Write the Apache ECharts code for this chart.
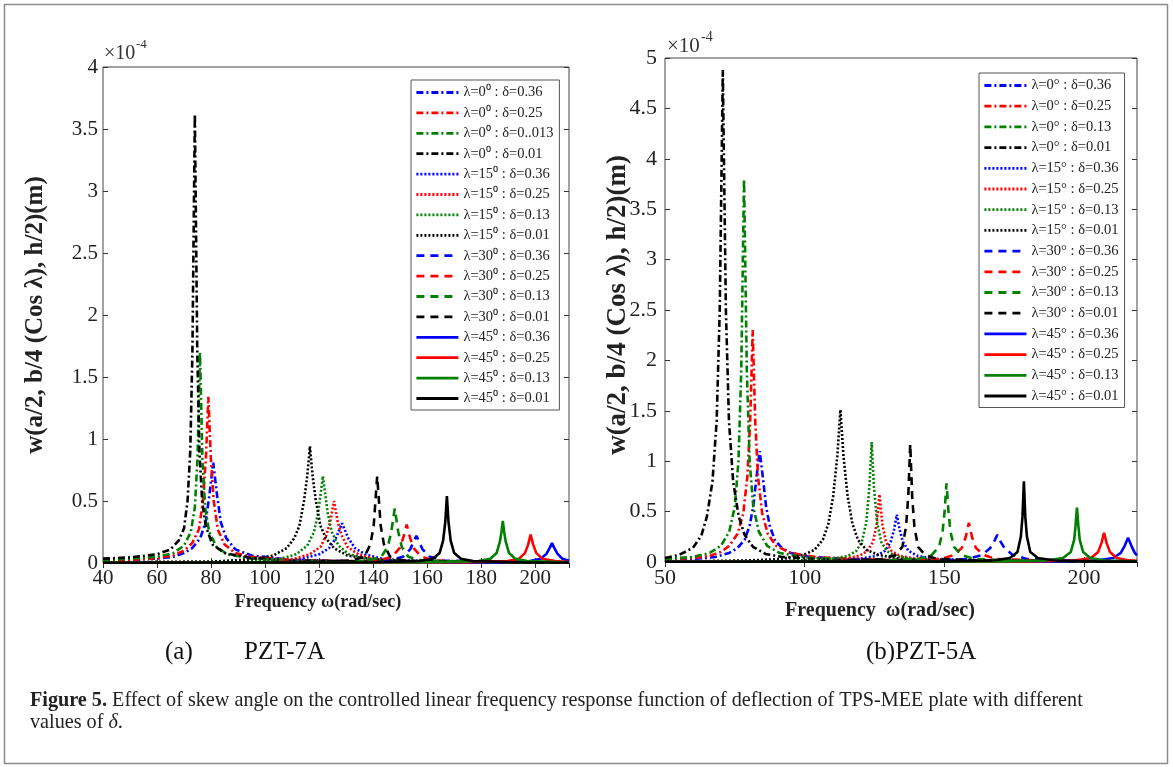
<!DOCTYPE html>
<html>
<head>
<meta charset="utf-8">
<script src="https://cdn.jsdelivr.net/npm/echarts@6/dist/echarts.min.js"></script>
<style>
html,body{margin:0;padding:0;background:#fff;}
#c{width:1173px;height:767px;}
</style>
</head>
<body>
<div id="c"></div>
<script>
// ---------------- DATA (values in units of 1e-4 m) ----------------
const leftNames = [
  'λ=0⁰ : δ=0.36','λ=0⁰ : δ=0.25','λ=0⁰ : δ=0..013','λ=0⁰ : δ=0.01',
  'λ=15⁰ : δ=0.36','λ=15⁰ : δ=0.25','λ=15⁰ : δ=0.13','λ=15⁰ : δ=0.01',
  'λ=30⁰ : δ=0.36','λ=30⁰ : δ=0.25','λ=30⁰ : δ=0.13','λ=30⁰ : δ=0.01',
  'λ=45⁰ : δ=0.36','λ=45⁰ : δ=0.25','λ=45⁰ : δ=0.13','λ=45⁰ : δ=0.01'
];
const rightNames = [
  'λ=0° : δ=0.36','λ=0° : δ=0.25','λ=0° : δ=0.13','λ=0° : δ=0.01',
  'λ=15° : δ=0.36','λ=15° : δ=0.25','λ=15° : δ=0.13','λ=15° : δ=0.01',
  'λ=30° : δ=0.36','λ=30° : δ=0.25','λ=30° : δ=0.13','λ=30° : δ=0.01',
  'λ=45° : δ=0.36','λ=45° : δ=0.25','λ=45° : δ=0.13','λ=45° : δ=0.01'
];
const leftYTicks = [0,0.5,1,1.5,2,2.5,3,3.5,4];
const rightYTicks = [0,0.5,1,1.5,2,2.5,3,3.5,4,4.5,5];

// ----- (a) PZT-7A -----
const L0_036 = [[40,0.02],[50,0.025],[60,0.035],[66,0.05],[70,0.08],[73,0.12],[76,0.2],[78,0.33],[79.4,0.55],[80.8,0.81],[82.2,0.55],[83.6,0.33],[85.6,0.2],[89,0.11],[95,0.06],[110,0.025],[140,0.012],[212.5,0.005]];
const L0_025 = [[40,0.02],[50,0.025],[60,0.04],[66,0.06],[70,0.1],[73,0.16],[75.5,0.27],[77,0.5],[78.1,0.85],[79,1.34],[79.9,0.85],[81,0.5],[82.5,0.27],[85,0.15],[89,0.08],[95,0.05],[110,0.025],[140,0.012],[212.5,0.005]];
const L0_0013 = [[40,0.025],[50,0.035],[60,0.05],[66,0.08],[70,0.14],[72.5,0.25],[74,0.45],[75,0.85],[75.9,1.7],[76.8,0.85],[77.8,0.45],[79.3,0.25],[82,0.13],[86,0.07],[95,0.035],[110,0.02],[140,0.01],[212.5,0.005]];
const L0_001 = [[40,0.035],[50,0.045],[60,0.07],[65,0.11],[68,0.18],[70,0.28],[71.3,0.5],[72.3,0.9],[73.1,1.7],[74,3.62],[74.9,1.7],[75.7,0.9],[76.7,0.5],[78,0.3],[80.5,0.15],[85,0.08],[95,0.04],[110,0.02],[140,0.01],[212.5,0.005]];

const L15_036 = [[40,0.005],[100,0.01],[113,0.03],[120,0.07],[123.7,0.12],[126.2,0.2],[128.5,0.32],[130.8,0.2],[133.3,0.12],[137,0.07],[144,0.03],[165,0.01],[212.5,0.005]];
const L15_025 = [[40,0.005],[95,0.01],[110,0.03],[116.5,0.07],[120.5,0.13],[122.6,0.22],[124.1,0.33],[125.5,0.5],[126.9,0.33],[128.4,0.22],[130.5,0.13],[134.5,0.07],[141,0.03],[160,0.01],[212.5,0.005]];
const L15_013 = [[40,0.005],[90,0.01],[105,0.03],[111.5,0.07],[115.6,0.14],[118.1,0.25],[119.6,0.4],[121.4,0.7],[123.2,0.4],[124.7,0.25],[127.2,0.14],[131,0.07],[138,0.03],[160,0.01],[212.5,0.005]];
const L15_001 = [[40,0.005],[80,0.01],[95,0.03],[103,0.06],[108,0.12],[110.8,0.2],[112.7,0.3],[114.4,0.5],[115.6,0.7],[116.6,0.94],[117.6,0.7],[118.8,0.5],[120.5,0.3],[122.5,0.2],[125.5,0.12],[130.5,0.06],[140,0.03],[160,0.01],[212.5,0.005]];

const L30_036 = [[40,0.003],[135,0.008],[146,0.02],[151,0.05],[153.7,0.11],[156,0.22],[158.3,0.11],[161,0.05],[166,0.02],[185,0.008],[212.5,0.003]];
const L30_025 = [[40,0.003],[130,0.008],[142,0.02],[147,0.05],[149.8,0.12],[151.1,0.2],[152.4,0.31],[153.7,0.2],[155,0.12],[157.8,0.05],[163,0.02],[180,0.008],[212.5,0.003]];
const L30_013 = [[40,0.003],[125,0.008],[138,0.02],[143,0.05],[145.4,0.13],[146.7,0.25],[148,0.44],[149.3,0.25],[150.6,0.13],[153,0.05],[158,0.02],[175,0.008],[212.5,0.003]];
const L30_001 = [[40,0.003],[120,0.008],[132,0.02],[136.7,0.05],[139,0.15],[140.2,0.3],[141.5,0.7],[142.8,0.3],[144,0.15],[146.3,0.05],[151,0.02],[170,0.008],[212.5,0.003]];

const L45_036 = [[40,0.002],[185,0.006],[198,0.015],[202,0.035],[204.2,0.075],[205.3,0.12],[206.2,0.16],[207.1,0.12],[208.2,0.075],[210,0.035],[212.5,0.018]];
const L45_025 = [[40,0.002],[174,0.006],[189.8,0.015],[194,0.035],[196.2,0.08],[197.4,0.15],[198.3,0.23],[199.2,0.15],[200.4,0.08],[202.6,0.035],[207.3,0.015],[212.5,0.008]];
const L45_013 = [[40,0.002],[159,0.006],[179,0.015],[183.4,0.035],[185.7,0.08],[186.9,0.17],[187.5,0.25],[188,0.34],[188.5,0.25],[189.1,0.17],[190.3,0.08],[192.6,0.035],[197,0.015],[212.5,0.006]];
const L45_001 = [[40,0.002],[139,0.006],[157,0.015],[162.1,0.035],[164.6,0.08],[165.9,0.18],[166.7,0.33],[167.3,0.54],[167.9,0.33],[168.7,0.18],[170,0.08],[172.5,0.035],[177,0.015],[194,0.006],[212.5,0.004]];

// ----- (b) PZT-5A -----
const R0_036 = [[50,0.02],[60,0.03],[68,0.05],[73,0.09],[76,0.14],[78.5,0.22],[80.3,0.36],[81.6,0.55],[82.8,0.85],[83.9,1.1],[85,0.85],[86.2,0.55],[87.5,0.36],[89.3,0.22],[91.8,0.14],[95,0.09],[102,0.05],[120,0.025],[160,0.01],[219,0.005]];
const R0_025 = [[50,0.025],[60,0.04],[66,0.06],[70,0.1],[73,0.16],[76,0.28],[78,0.48],[79.5,0.85],[80.5,1.4],[81.4,2.3],[82.3,1.4],[83.3,0.85],[84.8,0.48],[86.8,0.28],[89.8,0.16],[95,0.09],[105,0.045],[130,0.02],[219,0.005]];
const R0_013 = [[50,0.03],[60,0.05],[66,0.09],[70,0.16],[73,0.3],[75,0.55],[76.3,1.0],[77.3,1.9],[78.3,3.8],[79.3,1.9],[80.3,1.0],[81.6,0.55],[83.6,0.3],[86.6,0.16],[91,0.09],[100,0.045],[120,0.02],[160,0.01],[219,0.005]];
const R0_001 = [[50,0.04],[55,0.07],[60,0.14],[63,0.26],[65,0.45],[67,0.8],[68.5,1.4],[69.6,2.5],[70.7,4.88],[71.8,2.5],[72.9,1.4],[74.4,0.8],[76.4,0.45],[78.5,0.27],[81.5,0.15],[86,0.08],[92,0.05],[110,0.02],[150,0.01],[219,0.005]];

const R15_036 = [[50,0.004],[104.5,0.012],[119.5,0.03],[125.5,0.06],[128.8,0.11],[130.8,0.2],[132,0.32],[133,0.47],[134,0.32],[135.2,0.2],[137.2,0.11],[140.5,0.06],[146.5,0.03],[164.5,0.012],[219,0.004]];
const R15_025 = [[50,0.004],[99.5,0.012],[113.5,0.03],[119.5,0.06],[122.5,0.11],[124.5,0.2],[125.8,0.38],[126.8,0.67],[127.8,0.38],[129.1,0.2],[131.1,0.11],[134.1,0.06],[140.5,0.03],[159.5,0.012],[219,0.004]];
const R15_013 = [[50,0.004],[94.5,0.012],[109.5,0.03],[115.5,0.06],[118.5,0.11],[120.5,0.2],[122.1,0.4],[123.2,0.75],[124,1.19],[124.8,0.75],[125.9,0.4],[127.4,0.2],[129.4,0.11],[132.5,0.06],[138.5,0.03],[154.5,0.012],[219,0.004]];
const R15_001 = [[50,0.005],[79.5,0.015],[91.5,0.03],[99.5,0.07],[103.5,0.12],[106.5,0.22],[108.5,0.38],[110.2,0.65],[111.7,1.05],[112.8,1.51],[113.9,1.05],[115.4,0.65],[117.1,0.38],[119.1,0.22],[122.1,0.12],[126.5,0.07],[134.5,0.03],[149.5,0.015],[219,0.005]];

const R30_036 = [[50,0.003],[144.5,0.01],[158.5,0.03],[163.5,0.07],[166.5,0.14],[167.8,0.2],[169,0.27],[170.2,0.2],[171.5,0.14],[174.5,0.07],[179.5,0.03],[199.5,0.01],[219,0.004]];
const R30_025 = [[50,0.003],[134.5,0.01],[148.5,0.03],[153.5,0.07],[156.3,0.14],[157.7,0.25],[158.8,0.39],[159.9,0.25],[161.3,0.14],[164.1,0.07],[168.5,0.03],[189.5,0.01],[219,0.003]];
const R30_013 = [[50,0.003],[124.5,0.01],[140.5,0.03],[145.5,0.07],[148.1,0.15],[149.4,0.3],[150.1,0.5],[150.8,0.78],[151.5,0.5],[152.2,0.3],[153.5,0.15],[156.1,0.07],[160.5,0.03],[179.5,0.01],[219,0.003]];
const R30_001 = [[50,0.003],[109.5,0.01],[127.5,0.03],[132.5,0.07],[135,0.15],[136.3,0.35],[137.1,0.65],[137.8,1.17],[138.5,0.65],[139.3,0.35],[140.6,0.15],[143.1,0.07],[147.5,0.03],[169.5,0.01],[219,0.003]];

const R45_036 = [[50,0.002],[189,0.006],[204.5,0.015],[210.5,0.04],[213.2,0.09],[214.6,0.16],[215.8,0.24],[217,0.16],[218.2,0.09],[219,0.065]];
const R45_025 = [[50,0.002],[179,0.006],[196.5,0.015],[202.5,0.04],[205.1,0.1],[206.3,0.19],[207.2,0.29],[208.1,0.19],[209.3,0.1],[211.7,0.04],[215.5,0.02],[219,0.012]];
const R45_013 = [[50,0.002],[169,0.006],[186.5,0.015],[192.5,0.04],[195.3,0.1],[196.5,0.22],[197,0.36],[197.5,0.54],[198,0.36],[198.5,0.22],[199.7,0.1],[202.3,0.04],[207.5,0.015],[219,0.008]];
const R45_001 = [[50,0.002],[149.5,0.006],[167.5,0.015],[173.5,0.04],[176.2,0.1],[177.4,0.25],[178,0.45],[178.5,0.8],[179,0.45],[179.6,0.25],[180.8,0.1],[183.5,0.04],[189.5,0.015],[204.5,0.006],[219,0.004]];

const leftData = [L0_036,L0_025,L0_0013,L0_001,L15_036,L15_025,L15_013,L15_001,L30_036,L30_025,L30_013,L30_001,L45_036,L45_025,L45_013,L45_001];
const rightData = [R0_036,R0_025,R0_013,R0_001,R15_036,R15_025,R15_013,R15_001,R30_036,R30_025,R30_013,R30_001,R45_036,R45_025,R45_013,R45_001];

// ---------------- STYLE ----------------
const colors = ['#0000ff','#ff0000','#008000','#000000'];
const dashTypes = [[7,3,2,3],[2,2],[8,6],'solid'];
const SERIF = 'Liberation Serif, Times New Roman, serif';

function makeSeries(names, data, xi, yi) {
  return names.map((n, i) => ({
    name: n,
    type: 'line',
    xAxisIndex: xi,
    yAxisIndex: yi,
    data: data[i],
    symbol: 'none',
    showSymbol: false,
    silent: true,
    clip: true,
    lineStyle: { color: colors[i % 4], width: 2.6, type: dashTypes[Math.floor(i / 4)] },
    itemStyle: { color: colors[i % 4] }
  }));
}

function xAx(grid, min, max, interval, pos, labels, fs) {
  return {
    gridIndex: grid, type: 'value', min: min, max: max, interval: interval, position: pos,
    axisLine: { show: false },
    axisTick: { show: true, inside: true, length: 5, lineStyle: { color: '#333', width: 1 } },
    axisLabel: { show: labels, showMaxLabel: false, fontFamily: SERIF, fontSize: fs, color: '#222', margin: 5 },
    splitLine: { show: false }
  };
}
function yAx(grid, max, pos, labels, fs, margin) {
  return {
    gridIndex: grid, type: 'value', min: 0, max: max, interval: 0.5, position: pos,
    axisLine: { show: false },
    axisTick: { show: true, inside: true, length: 5, lineStyle: { color: '#333', width: 1 } },
    axisLabel: { show: labels, fontFamily: SERIF, fontSize: fs, color: '#222', margin: margin },
    splitLine: { show: false }
  };
}

function legendCfg(names, left, top, gap) {
  return {
    data: names, orient: 'vertical', left: left, top: top,
    itemWidth: 42, itemHeight: 12, itemGap: gap,
    padding: [5, 6, 4, 4],
    borderColor: '#555', borderWidth: 1, backgroundColor: '#fff',
    selectedMode: false,
    itemStyle: { opacity: 0 },
    lineStyle: { width: 2.8 },
    textStyle: { fontFamily: SERIF, fontSize: 14.5, lineHeight: 15, color: '#222' }
  };
}

const chart = echarts.init(document.getElementById('c'), null, { renderer: 'canvas' });

const option = {
  animation: false,
  backgroundColor: '#fff',
  grid: [
    { left: 103, top: 67, right: 1173 - 569, bottom: 767 - 563, show: true, borderColor: '#444', borderWidth: 1, backgroundColor: 'transparent' },
    { left: 665, top: 58, right: 1173 - 1137, bottom: 767 - 562, show: true, borderColor: '#444', borderWidth: 1, backgroundColor: 'transparent' }
  ],
  xAxis: [
    xAx(0, 40, 212.5, 20, 'bottom', true, 21),
    xAx(0, 40, 212.5, 20, 'top', false, 21),
    xAx(1, 50, 219, 50, 'bottom', true, 22),
    xAx(1, 50, 219, 50, 'top', false, 22)
  ],
  yAxis: [
    yAx(0, leftYTicks[leftYTicks.length - 1], 'left', true, 21, 5),
    yAx(0, leftYTicks[leftYTicks.length - 1], 'right', false, 21, 5),
    yAx(1, rightYTicks[rightYTicks.length - 1], 'left', true, 22, 8),
    yAx(1, rightYTicks[rightYTicks.length - 1], 'right', false, 22, 8)
  ],
  legend: [
    legendCfg(leftNames, 411, 80, 5.4),
    legendCfg(rightNames, 979, 73, 5.7)
  ],
  series: makeSeries(leftNames, leftData, 0, 0).concat(makeSeries(rightNames, rightData, 2, 2)),
  graphic: [
    { type: 'rect', silent: true, z: -10, shape: { x: 4.5, y: 4.5, width: 1163, height: 759 }, style: { fill: 'none', stroke: '#8c8c8c', lineWidth: 1.5 } },
    // exponent labels
    { type: 'text', x: 104, y: 54, style: { text: '×10', font: '20px ' + SERIF, fill: '#333', textVerticalAlign: 'middle' } },
    { type: 'text', x: 136, y: 45, style: { text: '-4', font: '13px ' + SERIF, fill: '#333', textVerticalAlign: 'middle' } },
    { type: 'text', x: 667, y: 46, style: { text: '×10', font: '21px ' + SERIF, fill: '#333', textVerticalAlign: 'middle' } },
    { type: 'text', x: 701, y: 37, style: { text: '-4', font: '14px ' + SERIF, fill: '#333', textVerticalAlign: 'middle' } },
    // y titles
    { type: 'text', x: 36, y: 315, rotation: Math.PI / 2, style: { text: 'w(a/2, b/4 (Cos λ), h/2)(m)', font: 'bold 25px ' + SERIF, fill: '#222', textAlign: 'center', textVerticalAlign: 'middle' } },
    { type: 'text', x: 618, y: 305, rotation: Math.PI / 2, style: { text: 'w(a/2, b/4 (Cos λ), h/2)(m)', font: 'bold 27px ' + SERIF, fill: '#222', textAlign: 'center', textVerticalAlign: 'middle' } },
    // x titles
    { type: 'text', x: 318, y: 602, style: { text: 'Frequency ω(rad/sec)', font: 'bold 18px ' + SERIF, fill: '#222', textAlign: 'center', textVerticalAlign: 'middle' } },
    { type: 'text', x: 880, y: 611, style: { text: 'Frequency  ω(rad/sec)', font: 'bold 20px ' + SERIF, fill: '#222', textAlign: 'center', textVerticalAlign: 'middle' } },
    // sub captions
    { type: 'text', x: 165, y: 652, style: { text: '(a)', font: '25px ' + SERIF, fill: '#111', textVerticalAlign: 'middle' } },
    { type: 'text', x: 244, y: 652, style: { text: 'PZT-7A', font: '25px ' + SERIF, fill: '#111', textVerticalAlign: 'middle' } },
    { type: 'text', x: 866, y: 652, style: { text: '(b)PZT-5A', font: '25px ' + SERIF, fill: '#111', textVerticalAlign: 'middle' } },
    // figure caption
    { type: 'text', x: 30, y: 701, style: {
        text: '{b|Figure 5.} Effect of skew angle on the controlled linear frequency response function of deflection of TPS-MEE plate with different',
        font: '20.2px ' + SERIF, fill: '#222', textVerticalAlign: 'middle',
        rich: { b: { fontWeight: 'bold', fontSize: 20.2, fontFamily: SERIF, fill: '#222' } } } },
    { type: 'text', x: 30, y: 723, style: {
        text: 'values of {i|δ}.', font: '20.2px ' + SERIF, fill: '#222', textVerticalAlign: 'middle',
        rich: { i: { fontStyle: 'italic', fontSize: 20.2, fontFamily: SERIF, fill: '#222' } } } }
  ]
};
chart.setOption(option);
</script>
</body>
</html>
